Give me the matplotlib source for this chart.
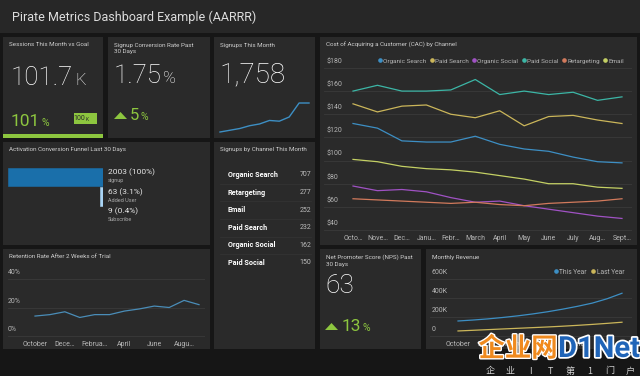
import matplotlib
matplotlib.use("Agg")
import matplotlib.pyplot as plt
import matplotlib.patheffects as pe
from matplotlib.patches import Rectangle, Polygon
from matplotlib.lines import Line2D
from matplotlib.transforms import blended_transform_factory

plt.rcParams["font.family"] = ["Roboto", "DejaVu Sans"]

W, H = 640, 376

# ---- data ----
months = ["Octo…", "Nove…", "Dec…", "Janu…", "Febr…", "March",
          "April", "May", "June", "July", "Aug…", "Sept…"]
cac_channels = ["Organic Search", "Paid Search", "Organic Social",
                "Paid Social", "Retargeting", "Email"]
cac_colors = ["#3d8fc4", "#cbb65a", "#a052c4", "#3cb6a6", "#d27a5c", "#c4d064"]
organic_search = [132, 128, 117, 116, 116, 121, 114, 110, 108, 103, 99, 98]
paid_search = [149, 142, 147, 148, 140, 137, 143, 130, 138, 139, 135, 132]
organic_social = [78, 74, 75, 73, 68, 64, 65, 61, 58, 55, 52, 50]
paid_social = [160, 165, 160, 160, 161, 170, 157, 160, 157, 159, 152, 155]
retargeting = [67, 66, 65, 64, 63, 64, 62, 61, 63, 64, 65, 67]
email = [101, 99, 95, 93, 92, 90, 87, 84, 80, 80, 77, 76]
cac_ticks = [40, 60, 80, 100, 120, 140, 160, 180]

signups_trend = [0, 100, 200, 360, 460, 660, 620, 860, 1660, 1660]

funnel_steps = ["signup", "Added User", "Subscribe"]
funnel_counts = [2003, 63, 9]
funnel_pct = [100, 3.1, 0.4]
funnel_colors = ["#1a6faa", "#a9d4f5", "#6b7480"]

channel_names = ["Organic Search", "Retargeting", "Email", "Paid Search",
                 "Organic Social", "Paid Social"]
channel_signups = [707, 277, 252, 232, 162, 150]

short_months = ["October", "Nov", "Dece…", "Jan", "Februa…", "Mar",
                "April", "May", "June", "Jul", "Augu…", "Sep"]
retention = [14, 15, 17, 13, 15, 15, 17.5, 19, 21, 20, 25, 22]
retention_ticks = [0, 20, 40]

this_year = [158, 168, 180, 195, 212, 232, 255, 282, 312, 346, 392, 450]
last_year = [53, 60, 67, 74, 81, 88, 95, 103, 112, 122, 133, 145]
revenue_ticks = [0, 200, 400, 600]

PANEL = "#2a2a2a"
GRID = "#3a3a3a"
TICK = "#b5b5b5"
TITLE = "#cfcfcf"
GREEN = "#8dc63f"

fig = plt.figure(figsize=(6.4, 3.76), dpi=100)
fig.patch.set_facecolor("#161616")
base = fig.add_axes([0, 0, 1, 1])
base.set_xlim(0, W)
base.set_ylim(H, 0)
base.axis("off")


def panel(x0, y0, x1, y1, color=PANEL):
    base.add_patch(Rectangle((x0, y0), x1 - x0, y1 - y0, color=color, lw=0))


def sub_axes(x0, y0, x1, y1):
    ax = fig.add_axes([x0 / W, 1 - y1 / H, (x1 - x0) / W, (y1 - y0) / H])
    ax.set_facecolor("none")
    for s in ax.spines.values():
        s.set_visible(False)
    return ax


def ptitle(x, y, s):
    base.text(x, y, s, color=TITLE, fontsize=4.5, va="top", ha="left", linespacing=1.35)


# panels
panel(0, 0, 640, 33, "#272727")
panel(3, 37, 103, 138)
panel(108, 37, 210, 138)
panel(214, 37, 315, 138)
panel(320, 37, 637, 245)
panel(3, 142, 210, 245)
panel(214, 142, 315, 349)
panel(3, 249, 210, 349)
panel(320, 249, 421, 349)
panel(426, 249, 637, 349)

base.text(12, 17, "Pirate Metrics Dashboard Example (AARRR)", color="#dddddd",
          fontsize=9, va="center")

fig.canvas.draw()
renderer = fig.canvas.get_renderer()


def after(t, s, **kw):
    bb = t.get_window_extent(renderer)
    x = base.transData.inverted().transform((bb.x1, bb.y0))[0]
    return base.text(x + kw.pop("gap", 1), t.get_position()[1], s, va="baseline", **kw)


# --- big number tiles ---
ptitle(9, 42.5, "Sessions This Month vs Goal")
t = base.text(11, 85, "101.7", color="white", fontsize=18.5, fontweight="light", va="baseline")
after(t, "K", color="white", fontsize=12, fontweight="light", gap=2)
t = base.text(11, 126, "101", color=GREEN, fontsize=12.5, va="baseline")
after(t, "%", color=GREEN, fontsize=7.5)
base.add_patch(Rectangle((74, 113), 23, 11, color=GREEN, lw=0))
base.text(85.5, 118.8, "100", color="#2a2a2a", fontsize=5, ha="right", va="center")
base.text(85.8, 119.8, "K", color="#2a2a2a", fontsize=3.5, ha="left", va="center")
base.add_patch(Rectangle((3, 134), 100, 4, color=GREEN, lw=0))

ptitle(114, 42.5, "Signup Conversion Rate Past\n30 Days")
t = base.text(114, 83, "1.75", color="white", fontsize=18.5, fontweight="light", va="baseline")
after(t, "%", color="white", fontsize=12.5, fontweight="light")
base.add_patch(Polygon([(114, 119), (127, 119), (120.5, 112)], color=GREEN, lw=0))
t = base.text(130, 120, "5", color=GREEN, fontsize=12, va="baseline")
after(t, "%", color=GREEN, fontsize=7.5)

ptitle(220, 42.5, "Signups This Month")
base.text(219, 82, "1,758", color="white", fontsize=20, fontweight="light", va="baseline")

ax = sub_axes(220, 103, 309, 132)
ax.plot(range(len(signups_trend)), signups_trend, color="#3d8fc4", lw=1, clip_on=False)
ax.set_xlim(0, len(signups_trend) - 1)
ax.set_ylim(0, max(signups_trend))
ax.set_xticks([])
ax.set_yticks([])

# --- CAC chart ---
ptitle(326, 42.5, "Cost of Acquiring a Customer (CAC) by Channel")
ax = sub_axes(324, 62, 632, 232)
px_per = (232 - 68) / 140.0
ax.set_ylim(40 - 2 / px_per, 180 + 6 / px_per)
ax.set_xlim(-(353 - 324) / 24.45, 11 + (632 - 622) / 24.45)
for vals, c in zip([organic_search, paid_search, organic_social, paid_social,
                    retargeting, email], cac_colors):
    ax.plot(range(len(vals)), vals, color=c, lw=0.9)
ax.set_yticks(cac_ticks)
ax.set_yticklabels([])
ax.yaxis.grid(True, color=GRID, lw=0.6)
ax.set_axisbelow(True)
ax.set_xticks(range(len(months)))
ax.set_xticklabels(months, color=TICK, fontsize=5)
ax.tick_params(length=0, pad=2)
tr = blended_transform_factory(ax.transAxes, ax.transData)
for v in cac_ticks:
    ax.annotate(f"${v}", xy=(0, v), xycoords=tr, xytext=(1.5, 2),
                textcoords="offset points", color=TICK, fontsize=5, va="bottom")
handles = [Line2D([], [], ls="none", marker="o", ms=2.3, color=c) for c in cac_colors]
leg = ax.legend(handles, cac_channels, ncol=6, loc="center right",
                bbox_to_anchor=(624 / W, 1 - 61 / H), bbox_transform=fig.transFigure,
                frameon=False, fontsize=4.6, handlelength=0.6, handletextpad=0.15,
                columnspacing=0.6, borderpad=0, borderaxespad=0)
for t in leg.get_texts():
    t.set_color(TICK)

# --- funnel ---
ptitle(9, 147.5, "Activation Conversion Funnel Last 30 Days")
ax = sub_axes(8, 167, 103, 226)
rows = range(len(funnel_pct))
ax.barh(rows, funnel_pct, left=[100 - p for p in funnel_pct], height=0.93,
        color=funnel_colors, edgecolor=funnel_colors, lw=0.4)
ax.set_xlim(0, 100)
ax.set_ylim(2.5, -0.5)
ax.set_xticks([])
ax.set_yticks([])
row_h = (226 - 167) / 3.0
for i, (c, p, s) in enumerate(zip(funnel_counts, funnel_pct, funnel_steps)):
    yc = 167 + (i + 0.5) * row_h
    base.text(108, yc - 4.5, f"{c} ({p:g}%)", color="#e6e6e6", fontsize=6, va="center")
    base.text(108, yc + 3.8, s, color="#a8a8a8", fontsize=4, va="center")

# --- signups by channel table ---
ptitle(220, 147.5, "Signups by Channel This Month")
for i, (n, v) in enumerate(zip(channel_names, channel_signups)):
    y = 175 + i * 17.6
    base.text(228, y, n, color="white", fontsize=5.2, fontweight="bold", va="center")
    base.text(311, y, str(v), color="#bdbdbd", fontsize=5, va="center", ha="right")
    if i < len(channel_names) - 1:
        base.plot([220, 311], [y + 8.8, y + 8.8], color="#333333", lw=0.6)

# --- retention ---
ptitle(9, 254.5, "Retention Rate After 2 Weeks of Trial")
ax = sub_axes(8, 275, 205, 338)
pp = (336 - 279) / 40.0
ax.set_ylim(-2 / pp, 40 + 4 / pp)
ax.set_xlim(-(35 - 8) / 14.9, 11 + 6 / 14.9)
ax.plot(range(len(retention)), retention, color="#4a8db8", lw=0.9)
ax.set_yticks(retention_ticks)
ax.set_yticklabels([])
ax.yaxis.grid(True, color=GRID, lw=0.6)
ax.set_xticks(range(0, 12, 2))
ax.set_xticklabels(short_months[::2], color=TICK, fontsize=5)
ax.tick_params(length=0, pad=2)
tr = blended_transform_factory(ax.transAxes, ax.transData)
for v in retention_ticks:
    ax.annotate(f"{v}%", xy=(0, v), xycoords=tr, xytext=(0, 2),
                textcoords="offset points", color=TICK, fontsize=5, va="bottom")

# --- NPS ---
ptitle(326, 254.5, "Net Promoter Score (NPS) Past\n30 Days")
base.text(325, 293, "63", color="white", fontsize=19, fontweight="light", va="baseline")
base.add_patch(Polygon([(325, 330), (338, 330), (331.5, 323)], color=GREEN, lw=0))
t = base.text(342, 331, "13", color=GREEN, fontsize=12.5, va="baseline")
after(t, "%", color=GREEN, fontsize=7.5)

# --- revenue ---
ptitle(432, 254.5, "Monthly Revenue")
ax = sub_axes(430, 275, 632, 338)
pp = (336 - 279) / 600.0
ax.set_ylim(-2 / pp, 600 + 4 / pp)
ax.set_xlim(-(458 - 430) / 14.9, 11 + 10 / 14.9)
ax.plot(range(len(this_year)), this_year, color="#3d8fc4", lw=0.9)
ax.plot(range(len(last_year)), last_year, color="#cbb65a", lw=0.9)
ax.set_yticks(revenue_ticks)
ax.set_yticklabels([])
ax.yaxis.grid(True, color=GRID, lw=0.6)
ax.set_xticks(range(0, 12, 2))
ax.set_xticklabels(short_months[::2], color=TICK, fontsize=5)
ax.tick_params(length=0, pad=2)
tr = blended_transform_factory(ax.transAxes, ax.transData)
for v in revenue_ticks:
    ax.annotate(f"{v}K" if v else "0", xy=(0, v), xycoords=tr, xytext=(1, 2),
                textcoords="offset points", color=TICK, fontsize=5, va="bottom")
handles = [Line2D([], [], ls="none", marker="o", ms=2.3, color=c)
           for c in ["#3d8fc4", "#cbb65a"]]
leg = ax.legend(handles, ["This Year", "Last Year"], ncol=2, loc="center right",
                bbox_to_anchor=(624 / W, 1 - 272 / H), bbox_transform=fig.transFigure,
                frameon=False, fontsize=4.8, handlelength=0.6, handletextpad=0.2,
                columnspacing=0.7, borderpad=0, borderaxespad=0)
for t in leg.get_texts():
    t.set_color(TICK)

# --- watermark ---
top = fig.add_axes([0, 0, 1, 1])
top.set_xlim(0, W)
top.set_ylim(H, 0)
top.axis("off")
cjk = ["Noto Sans CJK SC", "DejaVu Sans"]
top.text(518, 349, "企业网", color="#f08a1e", fontsize=19, fontweight="bold",
         ha="center", va="center", family=cjk,
         path_effects=[pe.withStroke(linewidth=2, foreground="white")])
top.text(599, 349, "D1Net", color="#1f64b8", fontsize=21, fontweight="bold",
         ha="center", va="center",
         path_effects=[pe.withStroke(linewidth=2.5, foreground="white")])
for i, ch in enumerate(["企", "业", "I", "T", "第", "1", "门", "户"]):
    top.text(490 + i * 20, 371, ch, color="#d0d0d0", fontsize=6.5,
             ha="center", va="center", family=cjk)

fig.savefig("out.png", dpi=100, facecolor=fig.get_facecolor())
